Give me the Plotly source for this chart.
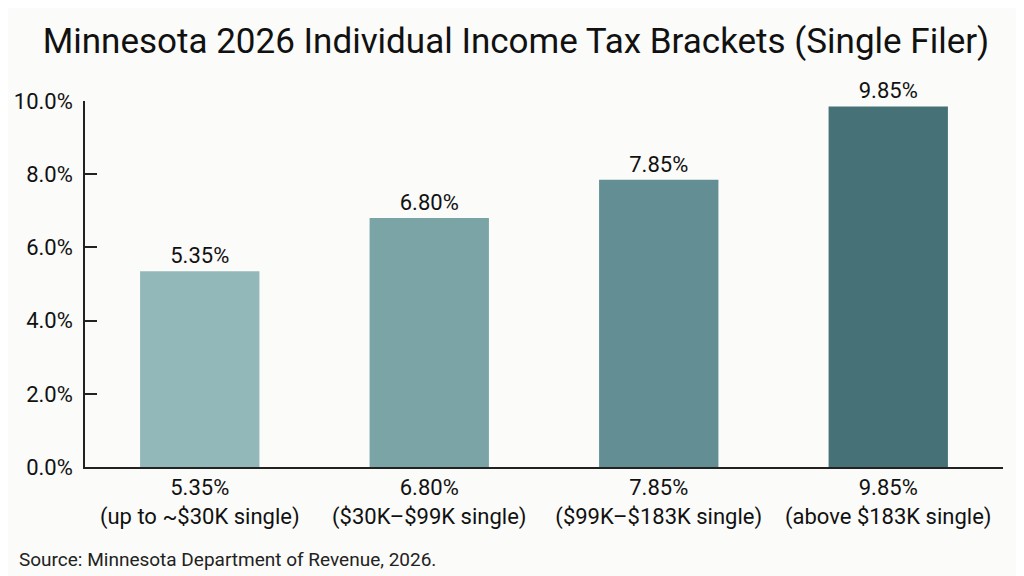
import plotly.graph_objects as go

rates = ["5.35%", "6.80%", "7.85%", "9.85%"]
ranges = ["(up to ~$30K single)", "($30K–$99K single)", "($99K–$183K single)", "(above $183K single)"]
values = [5.35, 6.80, 7.85, 9.85]
value_labels = ["5.35%", "6.80%", "7.85%", "9.85%"]
colors = ["#93b8ba", "#7ba4a7", "#638e94", "#467277"]
ytick_vals = [0, 2, 4, 6, 8, 10]
ytick_text = ["0.0%", "2.0%", "4.0%", "6.0%", "8.0%", "10.0%"]

categories = [f"{r}<br>{g}" for r, g in zip(rates, ranges)]

font = "Roboto, 'Noto Sans', sans-serif"
bg = "#fbfbf9"

fig = go.Figure(go.Bar(
    x=categories, y=values, marker=dict(color=colors, line=dict(width=0)),
    text=value_labels, textposition="outside", cliponaxis=False,
    textfont=dict(size=22, color="#111111", family=font),
))

fig.update_layout(
    width=1016, height=568,
    paper_bgcolor=bg, plot_bgcolor=bg,
    margin=dict(l=77, r=21, t=93, b=109),
    bargap=0.48,
    showlegend=False,
    font=dict(family=font, color="#111111"),
    title=dict(text="Minnesota 2026 Individual Income Tax Brackets (Single Filer)",
               x=0.5, xanchor="center", y=0.943, yanchor="middle",
               font=dict(size=35, color="#111111", family=font)),
    annotations=[dict(text="Source: Minnesota Department of Revenue, 2026.",
                      xref="paper", yref="paper", x=-0.074, y=-0.252,
                      xanchor="left", yanchor="middle", showarrow=False,
                      font=dict(size=19, color="#222222", family=font))],
)
fig.update_yaxes(range=[0, 10], tickvals=ytick_vals, ticktext=ytick_text,
                 showgrid=False, zeroline=False, showline=True, linecolor="#222222", linewidth=1.5,
                 ticks="inside", ticklen=12, tickcolor="#222222", tickwidth=1.5,
                 ticklabelstandoff=6, automargin=False,
                 tickfont=dict(size=22, color="#111111"))
fig.update_xaxes(showgrid=False, showline=True, linecolor="#222222", linewidth=1.5,
                 ticks="", automargin=False, tickfont=dict(size=22, color="#111111"))

fig.write_html("out.html")
